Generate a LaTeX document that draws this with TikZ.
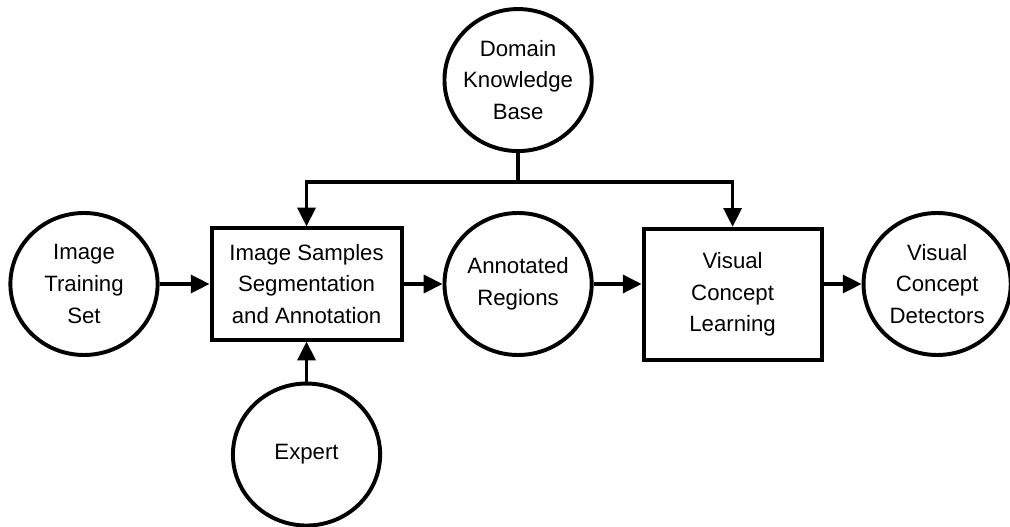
\documentclass[tikz,border=0pt]{standalone}
\usepackage{fontspec}
\setmainfont{Liberation Sans}
\usetikzlibrary{arrows.meta,positioning,shapes.geometric}
\tikzset{
  >={Triangle[length=4.7mm,width=4.5mm]},
  every node/.style={font=\fontsize{15.8pt}{22.5pt}\selectfont},
  blob/.style={ellipse, draw, line width=2.8pt, align=center, inner sep=-3pt, minimum width=3.68cm, minimum height=3.55cm},
  block/.style={draw, line width=2.8pt, align=center, inner sep=2pt, minimum width=4.75cm, minimum height=2.78cm},
  tallblock/.style={block, minimum width=4.45cm, minimum height=3.28cm},
  link/.style={->, line width=2.4pt},
}
\begin{document}
\begin{tikzpicture}[node distance=1cm]
  \useasboundingbox (-2.1,7.1) rectangle (23.15,-6.075);
  \node[blob] (train) at (0,0) {Image\\Training\\Set};
  \node[block, right=1.25cm of train] (seg) {Image Samples\\Segmentation\\and Annotation};
  \node[blob, right=0.975cm of seg] (annot) {Annotated\\Regions};
  \node[tallblock, right=1.2cm of annot, yshift=-2.6mm] (learn) {Visual\\Concept\\Learning};
  \node[blob, right=0.95cm of learn, yshift=2.6mm] (detect) {Visual\\Concept\\Detectors};
  \node[blob, above=1.45cm of annot] (domain) {Domain\\Knowledge\\Base};
  \node[blob, below=1cm of seg] (expert) {Expert};
  \coordinate[below=7.25mm of domain] (split);

  \draw[line width=2.4pt] (domain) -- (split);
  \draw[link] (split) -| (seg.north);
  \draw[link] (split) -| (learn.north);
  \draw[link] (train) -- (seg);
  \draw[link] (seg) -- (annot);
  \draw[link] (annot.east) -- (annot.east -| learn.west);
  \draw[link] (learn.east |- detect.west) -- (detect.west);
  \draw[link] (expert) -- (seg);
\end{tikzpicture}
\end{document}
